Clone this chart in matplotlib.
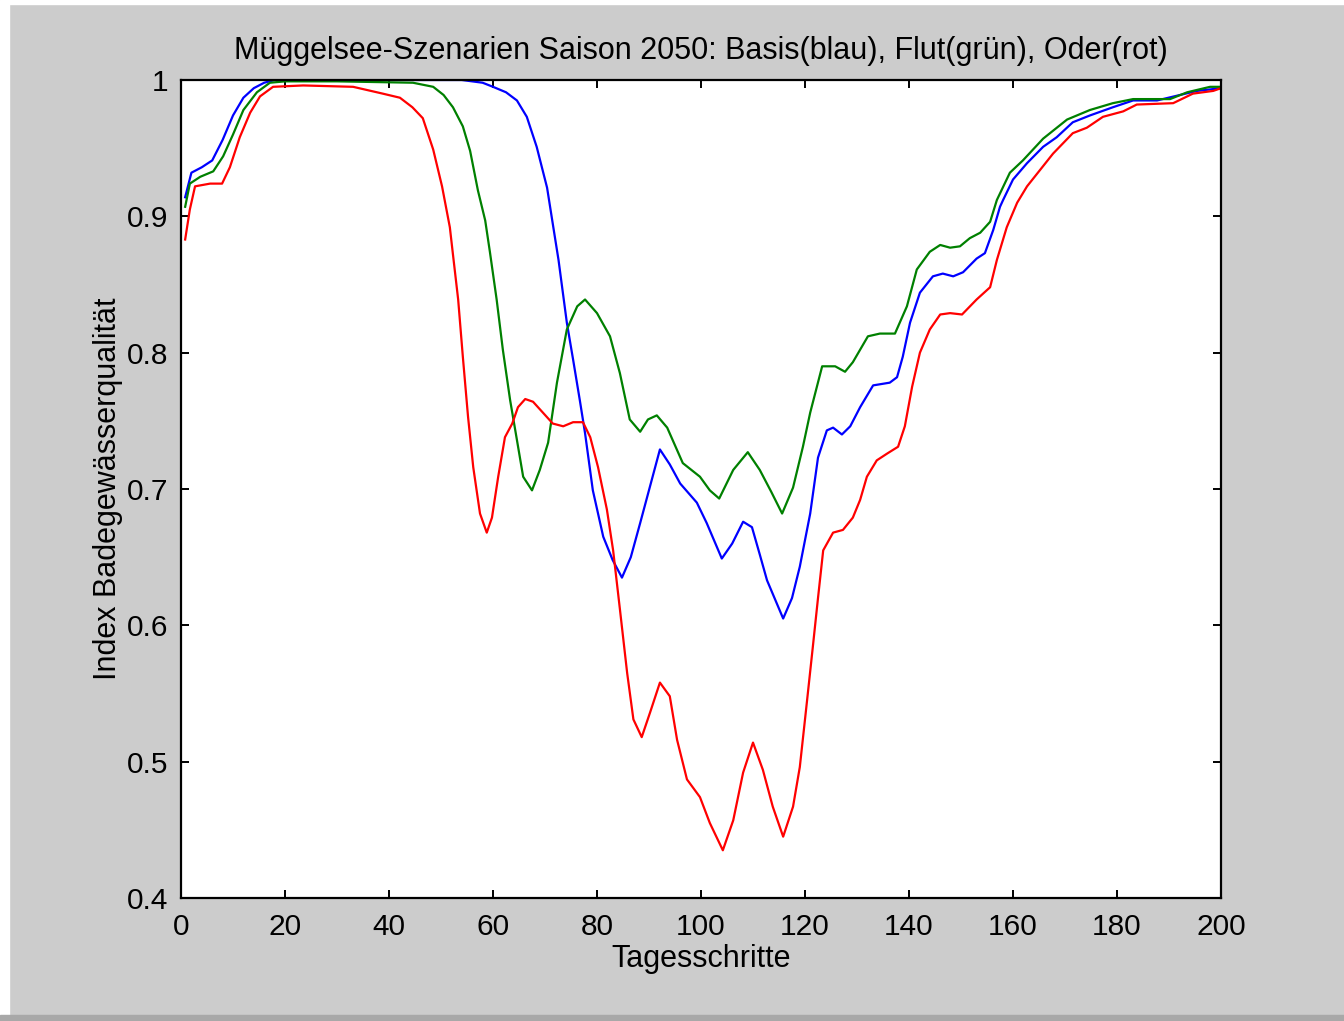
import matplotlib
matplotlib.use("Agg")
import matplotlib.pyplot as plt
from matplotlib.patches import Rectangle

# Basis (blau)
basis_t = [0.8, 2, 4, 6, 8, 10, 12, 14, 16, 18, 30, 45, 54, 58, 60, 62.5, 64.6, 66.5, 68.4,
           70.4, 71.6, 72.6, 74.2, 75.4, 76.7, 77.7, 79.2, 81.2, 83, 84.8, 86.5, 88.3, 90.2, 92.1,
           94, 96, 99.2, 101.1, 104, 106, 108.1, 109.8, 111.3, 112.7, 115.8, 117.5, 119, 121,
           122.5, 124.2, 125.4, 127.1, 128.7, 130.6, 133.1, 136.3, 137.7, 138.8, 140.2, 142.1,
           144.6, 146.5, 148.5, 150.4, 153, 154.6, 156.2, 157.5, 158.1, 160, 162.7, 165.8,
           168.4, 171.5, 174.8, 179.2, 183.1, 187.7, 192.1, 195.4, 200]
basis_v = [0.914, 0.932, 0.936, 0.941, 0.956, 0.974, 0.987, 0.994, 0.998, 1.0, 1.0, 1.0, 1.0,
           0.998, 0.995, 0.991, 0.985, 0.973, 0.951, 0.921, 0.892, 0.868, 0.822, 0.795, 0.765,
           0.741, 0.699, 0.665, 0.648, 0.635, 0.650, 0.675, 0.702, 0.729, 0.718, 0.704, 0.690,
           0.675, 0.649, 0.660, 0.676, 0.672, 0.652, 0.633, 0.605, 0.620, 0.643, 0.682, 0.723,
           0.743, 0.745, 0.740, 0.746, 0.760, 0.776, 0.778, 0.782, 0.797, 0.822, 0.844, 0.856,
           0.858, 0.856, 0.859, 0.869, 0.873, 0.890, 0.907, 0.912, 0.927, 0.939, 0.951, 0.958,
           0.969, 0.974, 0.980, 0.985, 0.985, 0.989, 0.992, 0.994]

# Flut (gruen)
flut_t = [0.8, 1.7, 3.7, 6.2, 8.1, 10, 12, 14.6, 17.1, 20, 30, 44.6, 48.5, 50.5, 52.3, 54.2,
          55.6, 57.1, 58.5, 59.4, 60.7, 61.9, 63.3, 64.6, 65.8, 67.5, 69, 70.6, 72.3, 74.2,
          76.2, 77.7, 80, 82.5, 84.4, 86.3, 88.3, 89.8, 91.5, 93.5, 96.5, 99.8, 101.7, 103.5,
          106.2, 109, 111.3, 113.5, 115.6, 117.7, 119.6, 121, 123.3, 125.8, 127.7, 129.2,
          132.1, 134.4, 137.3, 139.6, 141.5, 144, 146, 147.9, 149.8, 151.7, 153.7, 155.6,
          156.9, 159.4, 161.9, 165.8, 170.4, 174.8, 179.2, 183.1, 190.2, 193.5, 197.9, 200]
flut_v = [0.907, 0.924, 0.929, 0.933, 0.944, 0.960, 0.978, 0.991, 0.998, 0.999, 0.999, 0.998,
          0.995, 0.989, 0.980, 0.966, 0.948, 0.919, 0.897, 0.874, 0.839, 0.802, 0.765, 0.736,
          0.709, 0.699, 0.714, 0.734, 0.778, 0.817, 0.834, 0.839, 0.829, 0.812, 0.785, 0.751,
          0.742, 0.751, 0.754, 0.745, 0.719, 0.709, 0.699, 0.693, 0.714, 0.727, 0.714, 0.698,
          0.682, 0.701, 0.731, 0.756, 0.790, 0.790, 0.786, 0.793, 0.812, 0.814, 0.814, 0.834,
          0.861, 0.874, 0.879, 0.877, 0.878, 0.884, 0.888, 0.896, 0.912, 0.932, 0.941, 0.957,
          0.971, 0.978, 0.983, 0.986, 0.986, 0.991, 0.995, 0.995]

# Oder (rot)
oder_t = [0.8, 1.7, 2.7, 5.6, 7.9, 9.4, 11.3, 13.3, 15.2, 17.7, 23.5, 33.1, 38.8, 42.1, 44.5,
          46.5, 48.5, 50.2, 51.7, 52.3, 53.3, 54.2, 55.2, 56.2, 57.5, 58.8, 59.8, 61, 62.3,
          63.7, 64.8, 66.2, 67.7, 69.6, 71.5, 73.5, 75.4, 77.3, 78.7, 80.2, 81.9, 83.1, 84.4,
          85.8, 87, 88.6, 90.2, 92.1, 94, 95.4, 97.3, 99.8, 101.7, 104.2, 106.2, 108.1, 110,
          111.9, 113.8, 115.8, 117.7, 119, 120.4, 121.5, 122.5, 123.5, 125.4, 127.3, 129.2,
          130.6, 131.9, 133.8, 135.8, 137.9, 139.2, 140.6, 142.1, 144, 146, 147.9, 150.2, 153,
          155.6, 156.9, 158.8, 160.8, 162.7, 165.2, 167.7, 171.5, 174.2, 177.3, 181.2, 183.8,
          190.8, 194.6, 198.5, 200]
oder_v = [0.883, 0.905, 0.922, 0.924, 0.924, 0.936, 0.958, 0.976, 0.988, 0.995, 0.996, 0.995,
          0.990, 0.987, 0.980, 0.972, 0.949, 0.922, 0.892, 0.872, 0.839, 0.797, 0.753, 0.716,
          0.682, 0.668, 0.679, 0.709, 0.738, 0.748, 0.760, 0.766, 0.764, 0.756, 0.748, 0.746,
          0.749, 0.749, 0.738, 0.716, 0.685, 0.655, 0.612, 0.565, 0.531, 0.518, 0.536, 0.558,
          0.548, 0.516, 0.487, 0.474, 0.455, 0.435, 0.457, 0.492, 0.514, 0.494, 0.467, 0.445,
          0.467, 0.496, 0.545, 0.584, 0.620, 0.655, 0.668, 0.670, 0.679, 0.692, 0.709, 0.721,
          0.726, 0.731, 0.746, 0.775, 0.800, 0.817, 0.828, 0.829, 0.828, 0.839, 0.848, 0.868,
          0.892, 0.910, 0.922, 0.934, 0.946, 0.961, 0.965, 0.973, 0.977, 0.982, 0.983, 0.990,
          0.992, 0.994]

x_ticks = [0, 20, 40, 60, 80, 100, 120, 140, 160, 180, 200]
y_ticks = [0.4, 0.5, 0.6, 0.7, 0.8, 0.9, 1.0]
y_labels = ["0.4", "0.5", "0.6", "0.7", "0.8", "0.9", "1"]

plt.rcParams['font.family'] = ['Liberation Sans', 'DejaVu Sans']

fig = plt.figure(figsize=(13.44, 10.21), dpi=100, facecolor='#cccccc')
W, H = 1344, 1021

# window frame bits
fig.patches.append(Rectangle((0, 1 - 4 / H), 1, 4 / H, transform=fig.transFigure,
                             color='white', zorder=0))
fig.patches.append(Rectangle((0, 0), 9 / W, 1, transform=fig.transFigure,
                             color='white', zorder=0))
fig.patches.append(Rectangle((0, 0), 1, 6 / H, transform=fig.transFigure,
                             color='#a8a8a8', zorder=0))

ax = fig.add_axes([181 / W, 123 / H, 1040 / W, 818 / H])
ax.set_facecolor('white')

ax.plot(basis_t, basis_v, color='#0000ff', lw=1.6)
ax.plot(flut_t, flut_v, color='#008000', lw=1.6)
ax.plot(oder_t, oder_v, color='#ff0000', lw=1.6)

ax.set_xlim(0, 200)
ax.set_ylim(0.4, 1.0)
ax.set_xticks(x_ticks)
ax.set_yticks(y_ticks)
ax.set_yticklabels(y_labels)
ax.tick_params(direction='in', length=6, width=1.4, top=True, right=True,
               labelsize=21.5)
ax.tick_params(axis='x', pad=11)
ax.tick_params(axis='y', pad=9)
for s in ax.spines.values():
    s.set_linewidth(1.6)

ax.set_title('Müggelsee-Szenarien Saison 2050: Basis(blau), Flut(grün), Oder(rot)',
             fontsize=22, pad=15)
ax.set_xlabel('Tagesschritte', fontsize=22, labelpad=2)
ax.set_ylabel('Index Badegewässerqualität', fontsize=22, labelpad=3)

fig.savefig('out.png', dpi=100, facecolor=fig.get_facecolor())
